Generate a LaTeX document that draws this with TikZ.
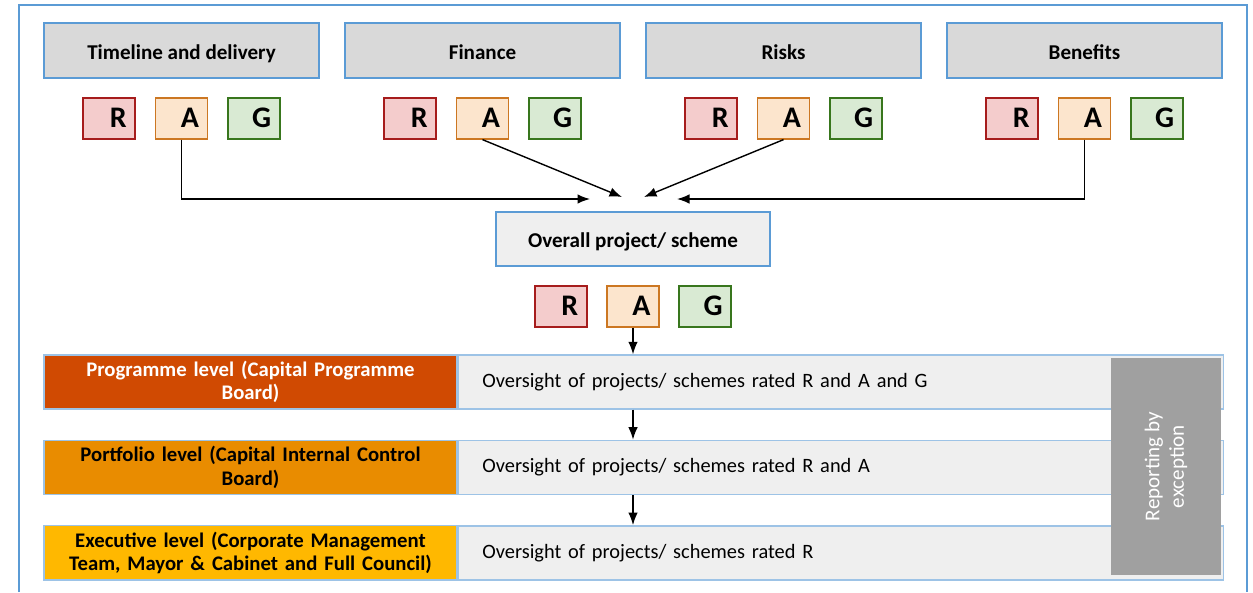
\documentclass[tikz,border=0pt]{standalone}
\usepackage{fontspec}
\setmainfont{Carlito}
\usetikzlibrary{arrows.meta, positioning}

\definecolor{hdrblue}{HTML}{5B9BD5}
\definecolor{rowblue}{HTML}{9DC3E6}
\definecolor{hdrgray}{HTML}{D9D9D9}
\definecolor{boxgray}{HTML}{EFEFEF}
\definecolor{rfill}{HTML}{F4CCCC}
\definecolor{rdraw}{HTML}{A61C1C}
\definecolor{afill}{HTML}{FCE5CD}
\definecolor{adraw}{HTML}{CC7722}
\definecolor{gfill}{HTML}{D9EAD3}
\definecolor{gdraw}{HTML}{38761D}
\definecolor{progfill}{HTML}{D04A02}
\definecolor{portfill}{HTML}{E98C00}
\definecolor{execfill}{HTML}{FFB800}
\definecolor{repgray}{HTML}{A0A0A0}

\begin{document}
\begin{tikzpicture}[
  x=0.02cm, y=-0.02cm,
  node distance=0.36cm and 0.37cm,
  header/.style={rectangle, draw=hdrblue, line width=1pt, fill=hdrgray, minimum width=5.5cm, minimum height=1.1cm, text height=12pt, text depth=2pt, font=\fontsize{12}{14}\selectfont\bfseries},
  rag/.style={rectangle, draw, line width=1pt, minimum width=1.04cm, minimum height=0.82cm, text width=0.7cm, inner xsep=0.17cm, inner ysep=0pt, align=right, font=\fontsize{17}{19}\selectfont\bfseries},
  rbox/.style={rag, draw=rdraw, fill=rfill},
  abox/.style={rag, draw=adraw, fill=afill},
  gbox/.style={rag, draw=gdraw, fill=gfill},
  level/.style={rectangle, draw=rowblue, line width=0.8pt, minimum width=8.26cm, minimum height=1.08cm, text width=7.9cm, inner xsep=0.1cm, align=center, font=\fontsize{11.8}{13.5}\selectfont\bfseries},
  oversight/.style={rectangle, draw=rowblue, fill=boxgray, line width=0.8pt, minimum height=1.08cm, text width=14.34cm, inner xsep=0.48cm, align=left, font=\fontsize{11.6}{13.5}\selectfont},
  arrow/.style={-{Latex[length=0.25cm, width=0.19cm]}, thick}
]
\useasboundingbox (0,0) rectangle (1253,592);

% outer frame, open at the bottom
\draw[hdrblue, line width=1pt] (19,592) -- (19,5) -- (1247,5) -- (1247,592);

% criteria
\node (timeline) [header] at (181.5,50.5) {Timeline and delivery};
\node (finance) [header] at (482.5,50.5) {Finance};
\node (risks) [header] at (783.5,50.5) {Risks};
\node (benefits) [header] at (1084.5,50.5) {Benefits};

\node (timelineA) [abox, below=of timeline] {A};
\node (timelineR) [rbox, left=of timelineA] {R};
\node (timelineG) [gbox, right=of timelineA] {G};

\node (financeA) [abox, below=of finance] {A};
\node (financeR) [rbox, left=of financeA] {R};
\node (financeG) [gbox, right=of financeA] {G};

\node (risksA) [abox, below=of risks] {A};
\node (risksR) [rbox, left=of risksA] {R};
\node (risksG) [gbox, right=of risksA] {G};

\node (benefitsA) [abox, below=of benefits] {A};
\node (benefitsR) [rbox, left=of benefitsA] {R};
\node (benefitsG) [gbox, right=of benefitsA] {G};

% overall rating
\node (overall) [header, fill=boxgray, minimum width=5.48cm, minimum height=1.08cm] at (633,239) {Overall project/ scheme};
\node (overallA) [abox, below=of overall] {A};
\node (overallR) [rbox, left=of overallA] {R};
\node (overallG) [gbox, right=of overallA] {G};

\coordinate (timelineIn) at (590,199);
\coordinate (financeIn) at (622,197);
\coordinate (risksIn) at (644,197);
\coordinate (benefitsIn) at (677,199);

\draw [arrow] (timelineA.south) |- (timelineIn);
\draw [arrow] (financeA.south) -- (financeIn);
\draw [arrow] (risksA.south) -- (risksIn);
\draw [arrow] (benefitsA.south) |- (benefitsIn);

% governance levels
\node (programme) [level, fill=progfill, text=white] at (250.5,382) {Programme level (Capital Programme\\Board)};
\node (programmeOv) [oversight, right=0pt of programme] {Oversight of projects/ schemes rated R and A and G};

\node (portfolio) [level, fill=portfill, below=0.6cm of programme] {Portfolio level (Capital Internal Control\\Board)};
\node (portfolioOv) [oversight, right=0pt of portfolio] {Oversight of projects/ schemes rated R and A};

\node (executive) [level, fill=execfill, below=0.6cm of portfolio] {Executive level (Corporate Management\\Team, Mayor \& Cabinet and Full Council)};
\node (executiveOv) [oversight, right=0pt of executive] {Oversight of projects/ schemes rated R};

\node (reporting) [rectangle, fill=repgray, text=white, rotate=90, minimum width=4.34cm, minimum height=2.2cm, align=center, font=\fontsize{12}{14}\selectfont] at (1166,466.5) {Reporting by\\exception};

\draw [arrow] (overallA.south) -- (overallA.south |- programmeOv.north);
\draw [arrow] (overallA.south |- programmeOv.south) -- (overallA.south |- portfolioOv.north);
\draw [arrow] (overallA.south |- portfolioOv.south) -- (overallA.south |- executiveOv.north);

\end{tikzpicture}
\end{document}
